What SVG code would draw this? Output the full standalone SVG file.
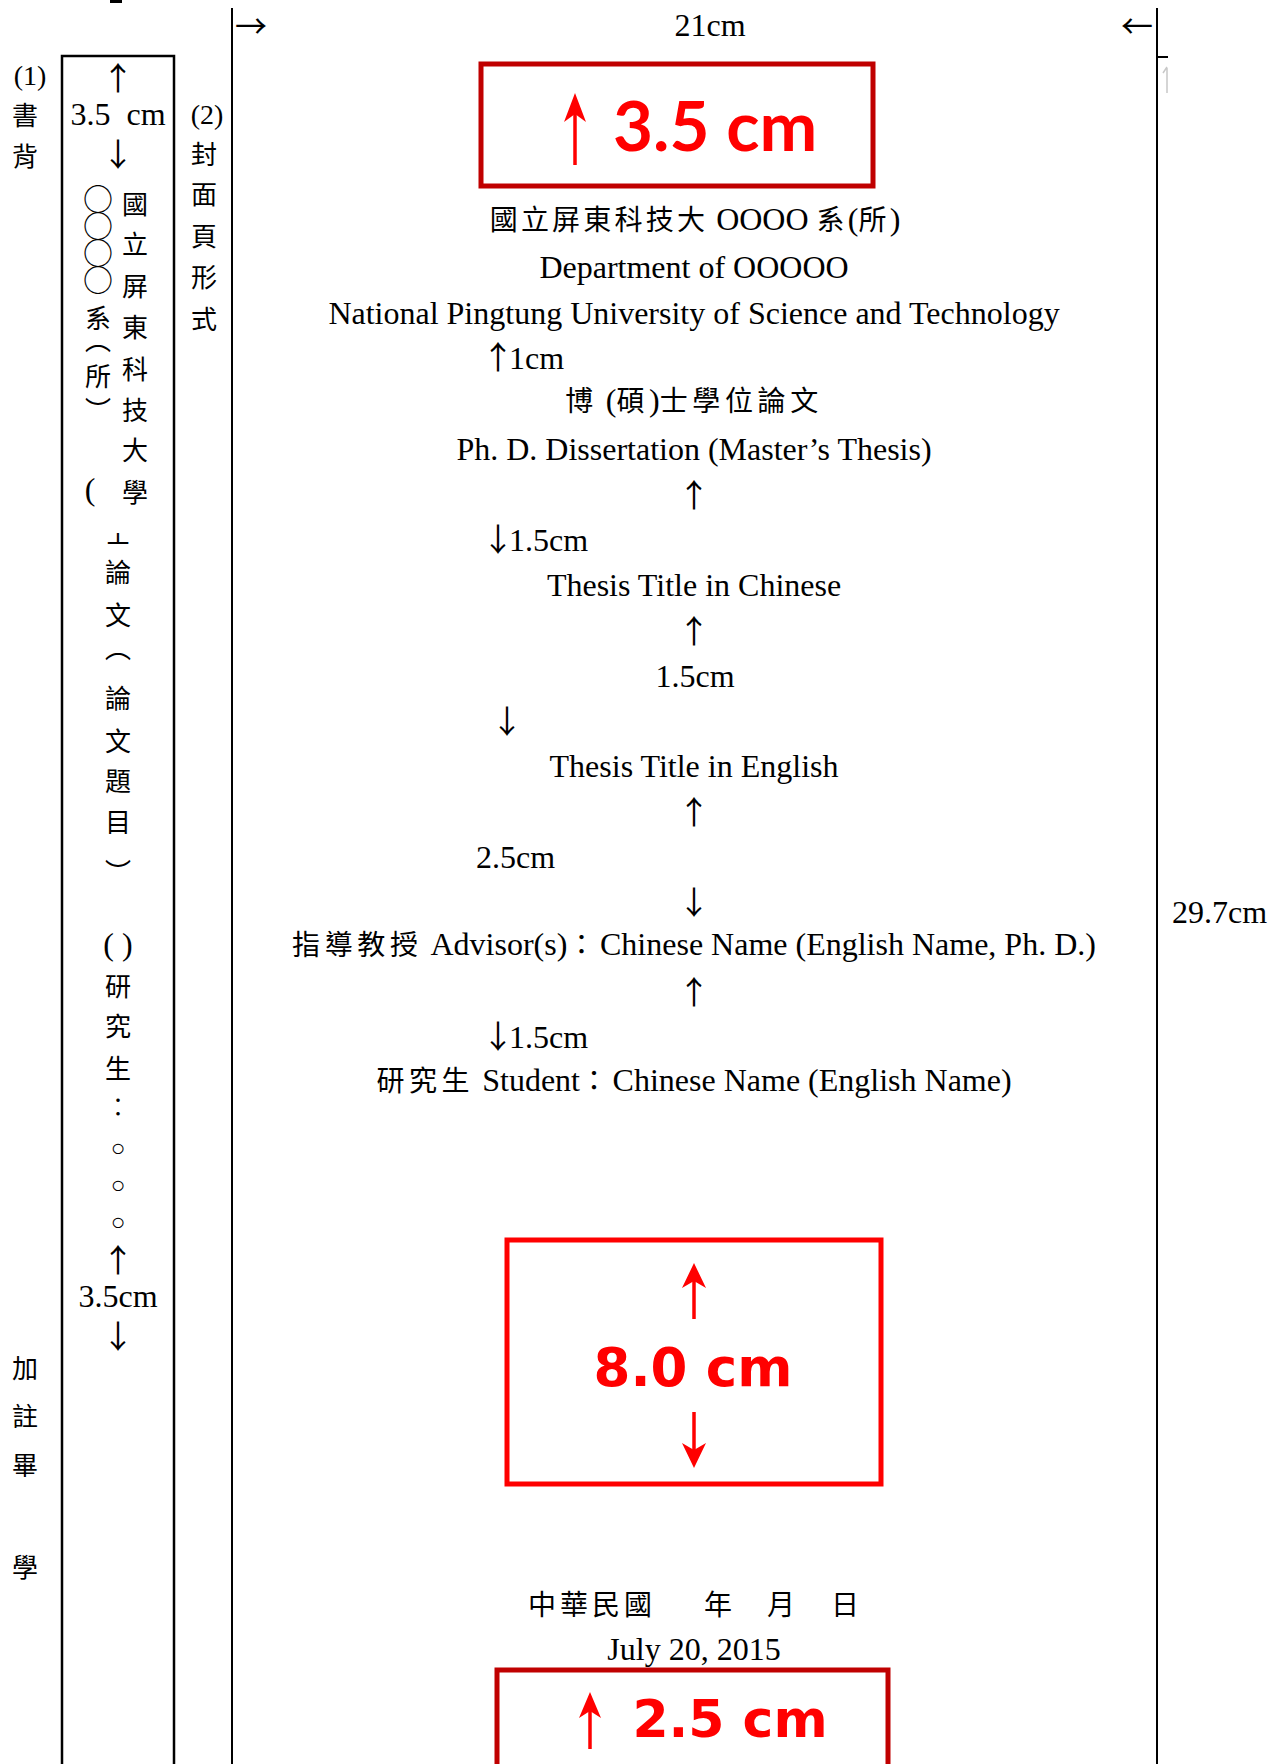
<svg xmlns="http://www.w3.org/2000/svg" width="1269" height="1764" viewBox="0 0 1269 1764">
<style>
  .t { font-family: "Liberation Serif", "Noto Sans CJK TC", serif; font-size: 32px; fill: #000; }
  .tm { text-anchor: middle; }
  .c { font-family: "Noto Sans CJK TC", sans-serif; font-size: 28px; letter-spacing: 4.6px; }
  .c2 { font-family: "Noto Sans CJK TC", sans-serif; font-size: 28px; letter-spacing: 3.2px; }
  .ar { font-family: "Noto Sans CJK TC", sans-serif; font-size: 32px; fill: #000; }
  .sc { font-family: "Noto Sans CJK TC", sans-serif; font-size: 26px; fill: #000; text-anchor: middle; }
  .rl { font-family: "Lato", "Open Sans", sans-serif; font-weight: bold; fill: #FF0000; }
  .rd { font-family: "DejaVu Sans", sans-serif; font-weight: bold; fill: #FF0000; text-anchor: middle; }
  .ln { stroke: #000; fill: none; }
  .boxd { fill: #FFFFFF; stroke: #C00000; stroke-width: 5; }
  .boxr { fill: #FFFFFF; stroke: #FF0000; stroke-width: 5; }
  .ra { stroke: #FF0000; stroke-width: 3.5; fill: none; }
  .rh { fill: #FF0000; }
</style>
<defs>
  <clipPath id="clipShi"><rect x="100" y="533" width="40" height="14"/></clipPath>
</defs>
<rect x="0" y="0" width="1269" height="1764" fill="#FFFFFF"/>

<g id="frame">
  <rect x="110" y="0" width="12" height="3" fill="#000"/>
  <line class="ln" x1="232" y1="8" x2="232" y2="1764" stroke-width="2"/>
  <line class="ln" x1="1157" y1="8" x2="1157" y2="1764" stroke-width="2"/>
  <line class="ln" x1="1157" y1="57" x2="1168" y2="57" stroke-width="2"/>
  <path d="M1167,93 L1167,68 M1163,73 L1167,67" stroke="#C8C8C8" stroke-width="1.5" fill="none"/>
  <rect class="ln" x="62" y="56" width="112" height="1720" stroke-width="2.5"/>
</g>

<g id="width-label">
  <text class="ar" x="235" y="38">→</text>
  <text class="t tm" x="710" y="36">21cm</text>
  <text class="ar" x="1121" y="38">←</text>
  <text class="t" x="1172" y="923">29.7cm</text>
</g>

<g id="spine-outer">
  <text class="t tm" x="30" y="85" style="font-size:28px">(1)</text>
  <text class="sc" x="25 25" y="125 166">書背</text>
  <text class="sc" x="25 25 25 25" y="1378 1426 1475 1577">加註畢學</text>
  <text class="t tm" x="207" y="124" style="font-size:28px">(2)</text>
  <text class="sc" x="204 204 204 204 204" y="164 204 246 287 329">封面頁形式</text>
</g>

<g id="spine-box">
  <text class="ar tm" x="118" y="90">↑</text>
  <text class="t tm" x="118" y="125" style="white-space:pre">3.5  cm</text>
  <text class="ar tm" x="118" y="166">↓</text>
  <text class="sc" x="98 98 98 98" y="210 237 264 291" style="font-size:30px">○○○○</text>
  <text class="sc" x="98 98 98 98" y="328 350 386 420">系︵所︶</text>
  <text class="t tm" x="90" y="500">(</text>
  <text class="sc" x="135 135 135 135 135 135 135 135" y="214 254 296 337 379 420 460 502">國立屏東科技大學</text>
  <text class="sc" x="118" y="543" clip-path="url(#clipShi)">士</text>
  <text class="sc" x="118 118 118 118 118 118 118 118" y="582 625 658 708 751 791 832 882">論文︵論文題目︶</text>
  <text class="t tm" x="118" y="955" style="white-space:pre">( )</text>
  <text class="sc" x="118 118 118 118" y="996 1036 1078 1117">研究生︰</text>
  <text class="t tm" x="118 118 118" y="1156 1193 1230" style="font-size:24px">○○○</text>
  <text class="ar tm" x="118" y="1272">↑</text>
  <text class="t tm" x="118" y="1307">3.5cm</text>
  <text class="ar tm" x="118" y="1348">↓</text>
</g>

<g id="top-margin">
  <rect class="boxd" x="481" y="64" width="392" height="122"/>
  <line class="ra" x1="575" y1="165" x2="575" y2="105"/>
  <path class="rh" d="M575,93 L586,122 L575,114 L564,122 Z"/>
  <text class="rl" x="613" y="151" style="font-size:69px">3.5 cm</text>
</g>

<g id="cover-text">
  <text class="t tm" x="695" y="230"><tspan class="c2">國立屏東科技大</tspan> OOOO <tspan class="c2">系</tspan>(<tspan class="c2">所</tspan>)</text>
  <text class="t tm" x="694" y="278">Department of OOOOO</text>
  <text class="t tm" x="694" y="324">National Pingtung University of Science and Technology</text>
  <text class="t" x="482" y="369"><tspan class="ar" style="letter-spacing:-5px">↑</tspan>1cm</text>
  <text class="t tm" x="694" y="411"><tspan class="c">博</tspan> (<tspan class="c">碩</tspan>)<tspan class="c">士學位論文</tspan></text>
  <text class="t tm" x="694" y="460">Ph. D. Dissertation (Master’s Thesis)</text>
  <text class="ar tm" x="694" y="507">↑</text>
  <text class="t" x="482" y="551"><tspan class="ar" style="letter-spacing:-5px">↓</tspan>1.5cm</text>
  <text class="t tm" x="694" y="596">Thesis Title in Chinese</text>
  <text class="ar tm" x="694" y="643">↑</text>
  <text class="t tm" x="695" y="687">1.5cm</text>
  <text class="ar tm" x="507" y="733">↓</text>
  <text class="t tm" x="694" y="777">Thesis Title in English</text>
  <text class="ar tm" x="694" y="824">↑</text>
  <text class="t" x="476" y="868">2.5cm</text>
  <text class="ar tm" x="694" y="914">↓</text>
  <text class="t tm" x="694" y="955"><tspan class="c">指導教授</tspan> Advisor(s)<tspan class="c">：</tspan>Chinese Name (English Name, Ph. D.)</text>
  <text class="ar tm" x="694" y="1004">↑</text>
  <text class="t" x="482" y="1048"><tspan class="ar" style="letter-spacing:-5px">↓</tspan>1.5cm</text>
  <text class="t tm" x="694" y="1091"><tspan class="c">研究生</tspan> Student<tspan class="c">：</tspan>Chinese Name (English Name)</text>
</g>

<g id="middle-space">
  <rect class="boxr" x="507" y="1240" width="374" height="244"/>
  <line class="ra" x1="694" y1="1319" x2="694" y2="1272"/>
  <path class="rh" d="M694,1263 L706,1288 L694,1281 L682,1288 Z"/>
  <text class="rd" x="693" y="1386" style="font-size:53px">8.0 cm</text>
  <line class="ra" x1="694" y1="1412" x2="694" y2="1458"/>
  <path class="rh" d="M694,1468 L706,1443 L694,1450 L682,1443 Z"/>
</g>

<g id="date">
  <text class="c" style="letter-spacing:0" text-anchor="middle" x="542 574 606 638 666 692 718 750 781 813 845" y="1615">中華民國　　年　月　日</text>
  <text class="t tm" x="694" y="1660">July 20, 2015</text>
</g>

<g id="bottom-margin">
  <rect class="boxd" x="497" y="1670" width="391" height="130"/>
  <line class="ra" x1="590" y1="1749" x2="590" y2="1702"/>
  <path class="rh" d="M590,1692 L601,1718 L590,1711 L579,1718 Z"/>
  <text class="rd" x="730" y="1737" style="font-size:52px">2.5 cm</text>
</g>
</svg>
